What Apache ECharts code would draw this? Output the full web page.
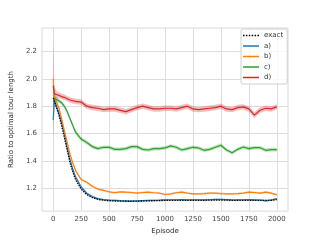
<!DOCTYPE html>
<html><head><meta charset="utf-8">
<script src="https://cdn.jsdelivr.net/npm/echarts@6/dist/echarts.min.js"></script>
<style>html,body{margin:0;padding:0;background:#fff}#c{width:320px;height:240px}</style>
</head><body><div id="c"></div>
<script>
const episodes = [0,10,25,50,75,100,125,150,175,200,250,300,350,400,450,500,550,600,650,700,750,800,850,900,950,1000,1050,1100,1150,1200,1250,1300,1350,1400,1450,1500,1550,1600,1650,1700,1750,1800,1850,1900,1950,2000];
const exactVals = [1.86,1.84,1.80,1.74,1.66,1.57,1.48,1.39,1.32,1.265,1.195,1.155,1.133,1.12,1.113,1.11,1.108,1.107,1.106,1.106,1.107,1.108,1.109,1.11,1.111,1.112,1.112,1.113,1.113,1.113,1.113,1.113,1.113,1.114,1.114,1.114,1.114,1.113,1.113,1.113,1.113,1.113,1.113,1.112,1.113,1.118];
const aVals = [1.70,1.84,1.81,1.75,1.68,1.60,1.50,1.41,1.34,1.285,1.21,1.165,1.14,1.125,1.118,1.115,1.113,1.11,1.108,1.107,1.108,1.11,1.112,1.113,1.114,1.116,1.117,1.117,1.118,1.116,1.117,1.117,1.116,1.117,1.12,1.12,1.118,1.115,1.116,1.117,1.118,1.116,1.115,1.108,1.115,1.125];
const bVals = [2.00,1.87,1.84,1.79,1.71,1.62,1.535,1.45,1.385,1.33,1.265,1.245,1.215,1.195,1.185,1.175,1.168,1.175,1.172,1.17,1.165,1.17,1.172,1.168,1.165,1.155,1.16,1.168,1.172,1.165,1.16,1.16,1.162,1.165,1.165,1.162,1.16,1.16,1.162,1.165,1.172,1.17,1.165,1.172,1.165,1.153];
const cVals = [1.86,1.855,1.85,1.84,1.825,1.80,1.76,1.71,1.66,1.61,1.56,1.535,1.505,1.49,1.50,1.50,1.485,1.485,1.49,1.505,1.505,1.485,1.48,1.49,1.49,1.495,1.51,1.50,1.48,1.49,1.50,1.495,1.478,1.485,1.50,1.515,1.48,1.46,1.485,1.502,1.49,1.497,1.497,1.478,1.483,1.483];
const dVals = [1.95,1.89,1.885,1.88,1.87,1.865,1.855,1.845,1.84,1.835,1.83,1.80,1.79,1.785,1.775,1.78,1.78,1.77,1.76,1.775,1.79,1.80,1.79,1.78,1.78,1.785,1.785,1.78,1.79,1.80,1.78,1.775,1.78,1.785,1.79,1.80,1.78,1.775,1.79,1.795,1.78,1.735,1.77,1.785,1.78,1.795];
const exactBand = [0.03,0.02,0.015,0.012,0.012,0.012,0.012,0.012,0.01,0.01,0.008,0.007,0.006,0.006,0.005,0.005,0.005,0.005,0.005,0.005,0.005,0.005,0.005,0.005,0.005,0.005,0.005,0.005,0.005,0.005,0.005,0.005,0.005,0.005,0.005,0.005,0.005,0.005,0.005,0.005,0.005,0.005,0.005,0.005,0.005,0.005];
const aBand = [0.15,0.03,0.015,0.012,0.012,0.01,0.01,0.01,0.008,0.008,0.007,0.006,0.006,0.005,0.005,0.005,0.005,0.005,0.005,0.005,0.005,0.005,0.005,0.005,0.005,0.005,0.005,0.005,0.005,0.005,0.005,0.005,0.005,0.005,0.005,0.005,0.005,0.005,0.005,0.005,0.005,0.006,0.006,0.008,0.006,0.006];
const bBand = [0.04,0.03,0.015,0.012,0.012,0.01,0.01,0.01,0.01,0.01,0.008,0.008,0.007,0.007,0.007,0.007,0.007,0.007,0.007,0.007,0.007,0.007,0.007,0.007,0.007,0.007,0.007,0.007,0.008,0.007,0.007,0.007,0.007,0.007,0.007,0.007,0.007,0.007,0.007,0.007,0.008,0.008,0.007,0.008,0.007,0.007];
const cBand = [0.12,0.03,0.02,0.015,0.015,0.015,0.015,0.015,0.015,0.015,0.015,0.014,0.013,0.013,0.013,0.013,0.013,0.013,0.013,0.013,0.013,0.013,0.013,0.013,0.013,0.013,0.013,0.013,0.013,0.013,0.013,0.013,0.013,0.013,0.013,0.015,0.013,0.013,0.013,0.013,0.013,0.013,0.013,0.013,0.013,0.013];
const dBand = [0.36,0.06,0.03,0.022,0.02,0.02,0.02,0.02,0.02,0.02,0.02,0.02,0.02,0.02,0.02,0.02,0.02,0.02,0.02,0.02,0.02,0.02,0.02,0.02,0.02,0.02,0.02,0.02,0.02,0.02,0.02,0.02,0.02,0.02,0.02,0.02,0.02,0.02,0.02,0.02,0.02,0.022,0.02,0.02,0.02,0.02];
const seriesNames = ['exact','a)','b)','c)','d)'];
const seriesVals = [exactVals,aVals,bVals,cVals,dVals];
const seriesBands = [exactBand,aBand,bBand,cBand,dBand];
const colors = ['#000000','#1f77b4','#ff7f0e','#2ca02c','#d62728'];
const xTicks = [0,250,500,750,1000,1250,1500,1750,2000];
const yTicks = [1.2,1.4,1.6,1.8,2.0,2.2];

const FONT = 'DejaVu Sans';
const series = [];
const order = [1,2,3,4,0];
order.forEach((i, z) => {
  const v = seriesVals[i], b = seriesBands[i];
  series.push({
    type:'custom', name:'_band'+i, silent:true, clip:true, z:2+z*0.01,
    coordinateSystem:'cartesian2d',
    data:[[episodes[0], v[0]]],
    renderItem:(params, api) => {
      const pts = [];
      for (let k = 0; k < episodes.length; k++) pts.push(api.coord([episodes[k], v[k] + b[k]]));
      for (let k = episodes.length - 1; k >= 0; k--) pts.push(api.coord([episodes[k], v[k] - b[k]]));
      return {type:'polygon', shape:{points:pts}, style:{fill:colors[i], opacity: i===0 ? 0.2 : 0.3}};
    }
  });
  series.push({
    type:'line', name:seriesNames[i], symbol:'none', z:3+z*0.01,
    lineStyle:{color:colors[i], width: i===0 ? 1.3 : 1.2, type: i===0 ? 'dotted' : 'solid'},
    itemStyle:{color:colors[i]},
    data: episodes.map((e,k)=>[e, v[k]])
  });
});

const dotIcon = 'path://M0,0h1.5v1.5h-1.5z M2.9,0h1.5v1.5h-1.5z M5.8,0h1.5v1.5h-1.5z M8.7,0h1.5v1.5h-1.5z M11.6,0h1.5v1.5h-1.5z M14.5,0h1.5v1.5h-1.5z';

const chart = echarts.init(document.getElementById('c'), null, {renderer:'canvas'});
chart.setOption({
  animation:false,
  backgroundColor:'#ffffff',
  textStyle:{fontFamily:FONT},
  grid:{left:40, right:32, top:28, bottom:27, show:true, borderColor:'#d9d9d9', borderWidth:1},
  legend:{
    data: seriesNames.map((n,i)=>({name:n, icon: i===0 ? dotIcon : 'rect'})),
    orient:'vertical', left:241, top:29,
    itemWidth:16, itemHeight:1.5, itemGap:3.5,
    padding:[3,4,3,2], borderColor:'#d0d0d0', borderWidth:1, borderRadius:2,
    backgroundColor:'rgba(255,255,255,0.8)',
    textStyle:{fontFamily:FONT, fontSize:7, color:'#333333'}
  },
  xAxis:{
    type:'value', min:-100, max:2100,
    name:'Episode', nameLocation:'middle', nameGap:14,
    nameTextStyle:{fontFamily:FONT, fontSize:7, color:'#262626'},
    axisLine:{show:false}, axisTick:{show:false, customValues:xTicks},
    axisLabel:{customValues:xTicks, fontFamily:FONT, fontSize:7, color:'#444444', margin:5,
      formatter:(v)=>String(v)},
    splitLine:{show:true, lineStyle:{color:'#dddddd', width:1}}
  },
  yAxis:{
    type:'value', min:1.034, max:2.371,
    name:'Ratio to optimal tour length', nameLocation:'middle', nameGap:20, nameRotate:90,
    nameTextStyle:{fontFamily:FONT, fontSize:7, color:'#262626'},
    axisLine:{show:false}, axisTick:{show:false, customValues:yTicks},
    axisLabel:{customValues:yTicks, fontFamily:FONT, fontSize:7, color:'#444444', margin:5,
      formatter:(v)=>v.toFixed(1)},
    splitLine:{show:true, lineStyle:{color:'#dddddd', width:1}}
  },
  series: series
});
</script>
</body></html>
